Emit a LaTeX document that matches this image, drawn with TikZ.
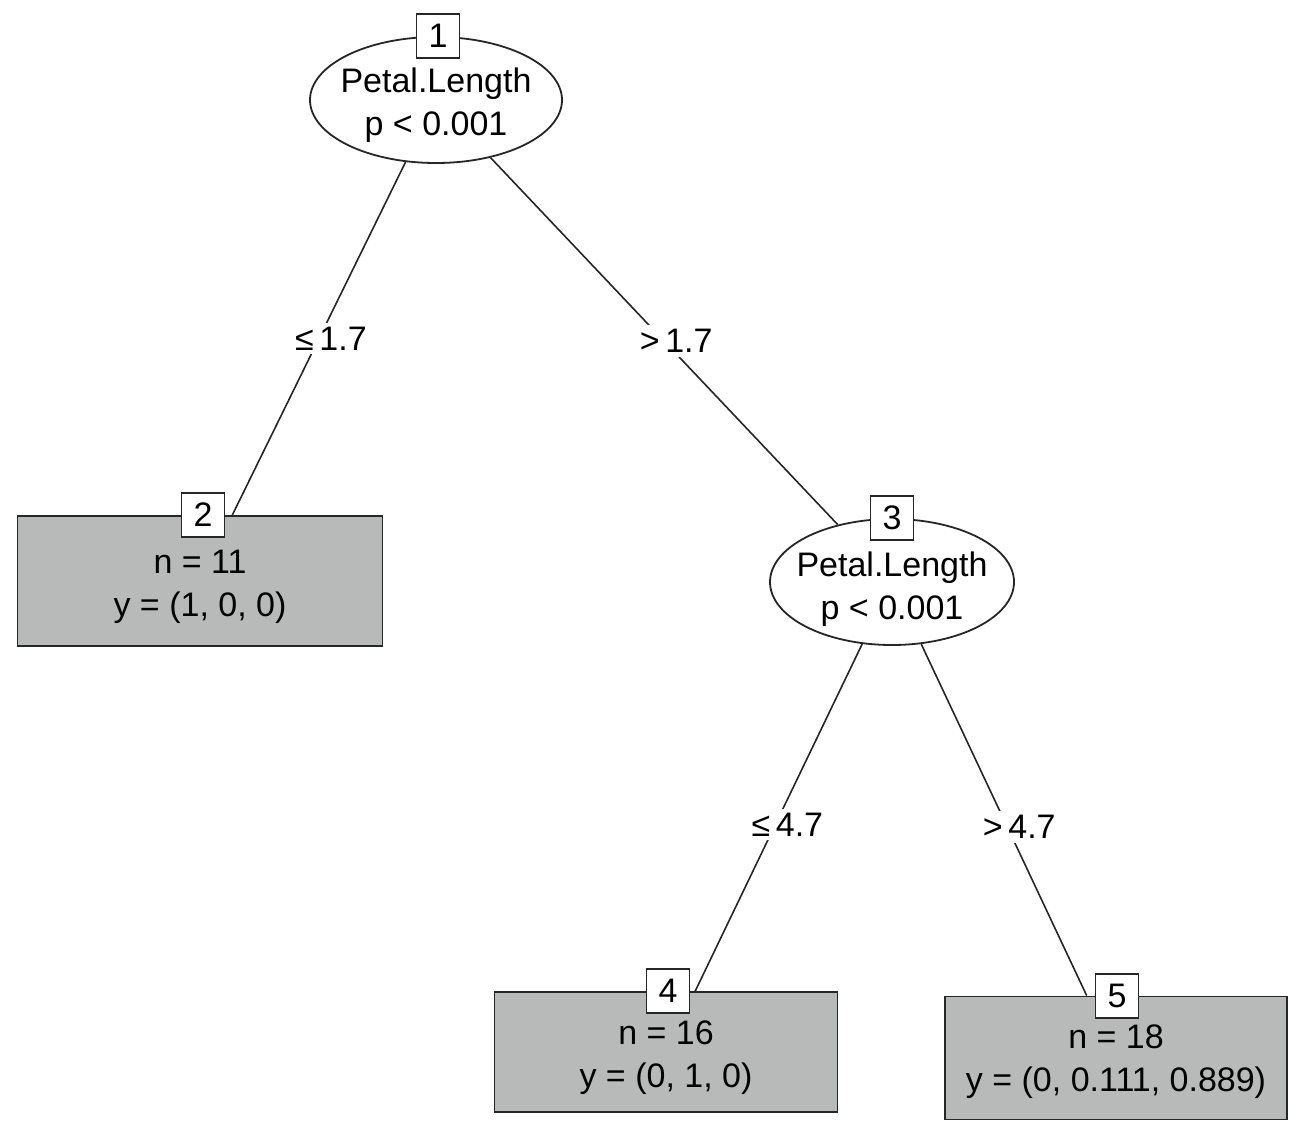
\documentclass[tikz,border=0pt]{standalone}
\usepackage{fontspec}
\setmainfont{Liberation Sans}
\usetikzlibrary{shapes.geometric}
\definecolor{leafgray}{RGB}{184,186,185}

\begin{document}
\begin{tikzpicture}[x=0.5pt,y=-0.5pt,
        every node/.style={font=\fontsize{17}{21.5}\selectfont},
        splitnode/.style={draw=black!85,line width=0.9pt,ellipse,fill=white,inner sep=0pt},
        leafnode/.style={draw=black!85,line width=0.9pt,fill=leafgray,inner sep=0pt},
        numbox/.style={draw=black!85,line width=0.9pt,fill=white,minimum width=21.5pt,minimum height=22pt,inner sep=0pt},
        edgelabel/.style={fill=white,inner sep=2pt,xshift=6pt},
        treeedge/.style={draw=black!85,line width=0.8pt}]
            \useasboundingbox (0,0) rectangle (1294,1135);

            \node[splitnode,minimum width=126pt,minimum height=63pt] (n1) at (436,100) {};
            \node[align=center] (n1txt) at ([yshift=-2.5pt]n1) {Petal.Length\\p < 0.001};
            \node[numbox] (n1num) at ([xshift=1pt]n1.north) {1};

            \node[leafnode,minimum width=182.5pt,minimum height=65pt] (n2) at (200,581) {};
            \node[align=center] (n2txt) at ([yshift=-3pt]n2) {n = 11\\y = (1, 0, 0)};
            \node[numbox] (n2num) at ([xshift=1.5pt]n2.north) {2};

            \node[splitnode,minimum width=122pt,minimum height=63pt] (n3) at (892,582) {};
            \node[align=center] (n3txt) at ([yshift=-3.5pt]n3) {Petal.Length\\p < 0.001};
            \node[numbox] (n3num) at (n3.north) {3};

            \node[leafnode,minimum width=171.5pt,minimum height=60pt] (n4) at (666,1052) {};
            \node[align=center] (n4txt) at ([yshift=-3pt]n4) {n = 16\\y = (0, 1, 0)};
            \node[numbox] (n4num) at ([xshift=1pt]n4.north) {4};

            \node[leafnode,minimum width=171pt,minimum height=61.5pt] (n5) at (1116,1058) {};
            \node[align=center] (n5txt) at ([yshift=-2pt]n5) {n = 18\\y = (0, 0.111, 0.889)};
            \node[numbox] (n5num) at ([xshift=0.5pt]n5.north) {5};

            \draw[treeedge] (n1) -- node[edgelabel]{≤\,1.7} (n2);
            \draw[treeedge] (n1) -- node[edgelabel]{>\,1.7} (n3);
            \draw[treeedge] (n3) -- node[edgelabel,pos=0.52]{≤\,4.7} (n4);
            \draw[treeedge] (n3) -- node[edgelabel,pos=0.52]{>\,4.7} (n5);
\end{tikzpicture}
\end{document}
